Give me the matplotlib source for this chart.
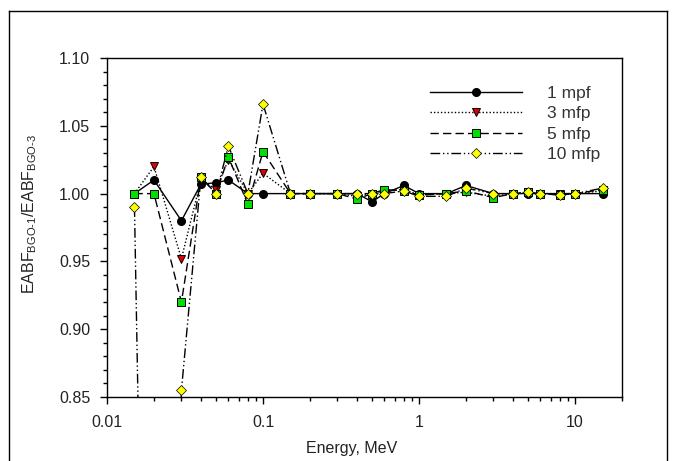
import matplotlib
matplotlib.use("Agg")
import matplotlib.pyplot as plt
from matplotlib.ticker import MultipleLocator, LogLocator, NullFormatter, FormatStrFormatter
from matplotlib.lines import Line2D

plt.rcParams['font.family'] = ['Liberation Sans', 'DejaVu Sans']
plt.rcParams['mathtext.fontset'] = 'custom'
plt.rcParams['mathtext.rm'] = 'Liberation Sans'
plt.rcParams['mathtext.it'] = 'Liberation Sans'

energy = [0.015, 0.02, 0.03, 0.04, 0.05, 0.06, 0.08, 0.1, 0.15, 0.2, 0.3, 0.4, 0.5,
          0.6, 0.8, 1, 1.5, 2, 3, 4, 5, 6, 8, 10, 15]
mfp1 = [1.000, 1.010, 0.980, 1.007, 1.008, 1.010, 1.000, 1.000, 1.000, 1.000, 1.000, 1.000, 0.994,
        1.000, 1.006, 1.000, 1.000, 1.006, 1.000, 1.000, 1.000, 1.000, 1.000, 1.000, 1.000]
mfp3 = [1.000, 1.020, 0.952, 1.010, 1.003, 1.025, 1.000, 1.015, 1.000, 1.000, 1.000, 0.998, 1.000,
        1.002, 1.003, 0.999, 1.000, 1.001, 0.998, 1.000, 1.001, 1.000, 1.000, 1.000, 1.002]
mfp5 = [1.000, 1.000, 0.920, 1.012, 1.000, 1.027, 0.992, 1.031, 1.000, 1.000, 1.000, 0.996, 1.000,
        1.003, 1.002, 0.999, 1.000, 1.002, 0.997, 1.000, 1.001, 1.000, 0.999, 1.000, 1.003]
mfp10 = [0.990, 0.200, 0.855, 1.012, 1.000, 1.035, 1.000, 1.066, 1.000, 1.000, 1.000, 1.000, 1.000,
         1.000, 1.002, 0.998, 0.998, 1.004, 1.000, 1.000, 1.001, 1.000, 0.999, 1.000, 1.004]
labels = ['1 mpf', '3 mfp', '5 mfp', '10 mfp']

W, H = 673, 461
AX_L, AX_R, AX_T, AX_B = 107, 622, 58, 397
fig = plt.figure(figsize=(W / 100, H / 100), dpi=100)
ax = fig.add_axes([AX_L / W, 1 - AX_B / H, (AX_R - AX_L) / W, (AX_B - AX_T) / H])

# outer frame
for xs, ys in [((9 / W, 9 / W), (0, 1 - 11 / H)),
               ((9 / W, 667 / W), (1 - 11 / H, 1 - 11 / H)),
               ((667 / W, 667 / W), (0, 1 - 11 / H))]:
    fig.add_artist(Line2D(xs, ys, color='black', lw=1.0, transform=fig.transFigure))

ms = 6
ax.plot(energy, mfp1, color='black', ls='-', lw=1.0, marker='o', ms=ms - 0.5,
        mfc='black', mec='black', label=labels[0], zorder=3)
ax.plot(energy, mfp3, color='black', ls=(0, (1, 1.5)), lw=1.0, marker='v', ms=ms,
        mfc='#e00000', mec='black', mew=0.7, label=labels[1], zorder=4)
ax.plot(energy, mfp5, color='black', ls=(0, (6, 3)), lw=1.0, marker='s', ms=ms - 0.5,
        mfc='#00e000', mec='black', mew=0.7, label=labels[2], zorder=5)
ax.plot(energy, mfp10, color='black', ls=(0, (7, 2, 1, 2, 1, 2)), lw=1.0, marker='D', ms=ms - 0.5,
        mfc='#ffff00', mec='black', mew=0.5, label=labels[3], zorder=6)

ax.set_xscale('log')
ax.set_xlim(0.01, 20)
ax.set_ylim(0.85, 1.10)
ax.set_xticks([0.01, 0.1, 1, 10])
ax.set_xticklabels(['0.01', '0.1', '1', '10'])
ax.xaxis.set_minor_locator(LogLocator(base=10, subs=range(2, 10), numticks=20))
ax.xaxis.set_minor_formatter(NullFormatter())
ax.yaxis.set_major_locator(MultipleLocator(0.05))
ax.yaxis.set_minor_locator(MultipleLocator(0.01))
ax.yaxis.set_major_formatter(FormatStrFormatter('%.2f'))

ax.tick_params(which='both', direction='out', top=False, right=False, labelsize=11.5,
               labelcolor='#222222', width=1.0)
ax.tick_params(which='major', length=5)
ax.tick_params(axis='x', which='major', pad=8)
ax.tick_params(axis='y', which='major', pad=7)
ax.tick_params(which='minor', length=3)
for s in ax.spines.values():
    s.set_linewidth(1.0)

ax.set_xlabel('Energy, MeV', fontsize=11.5, color='#222222')
ax.xaxis.set_label_coords((352 - AX_L) / (AX_R - AX_L), (AX_B - 441) / (AX_B - AX_T))
ax.set_ylabel(r'EABF$_{\mathregular{BGO\text{-}1}}$/EABF$_{\mathregular{BGO\text{-}3}}$', fontsize=11.5,
              color='#222222')
ax.yaxis.set_label_coords((39 - AX_L) / (AX_R - AX_L), 0.54)

leg = ax.legend(loc='upper left',
                bbox_to_anchor=((423 - AX_L) / (AX_R - AX_L), 1 - (79 - AX_T) / (AX_B - AX_T)),
                frameon=False, fontsize=12.5, handlelength=5.3, numpoints=1, labelspacing=0.3,
                handletextpad=1.45, borderaxespad=0)
for t in leg.get_texts():
    t.set_color('#333333')

fig.savefig('out.png', dpi=100)
